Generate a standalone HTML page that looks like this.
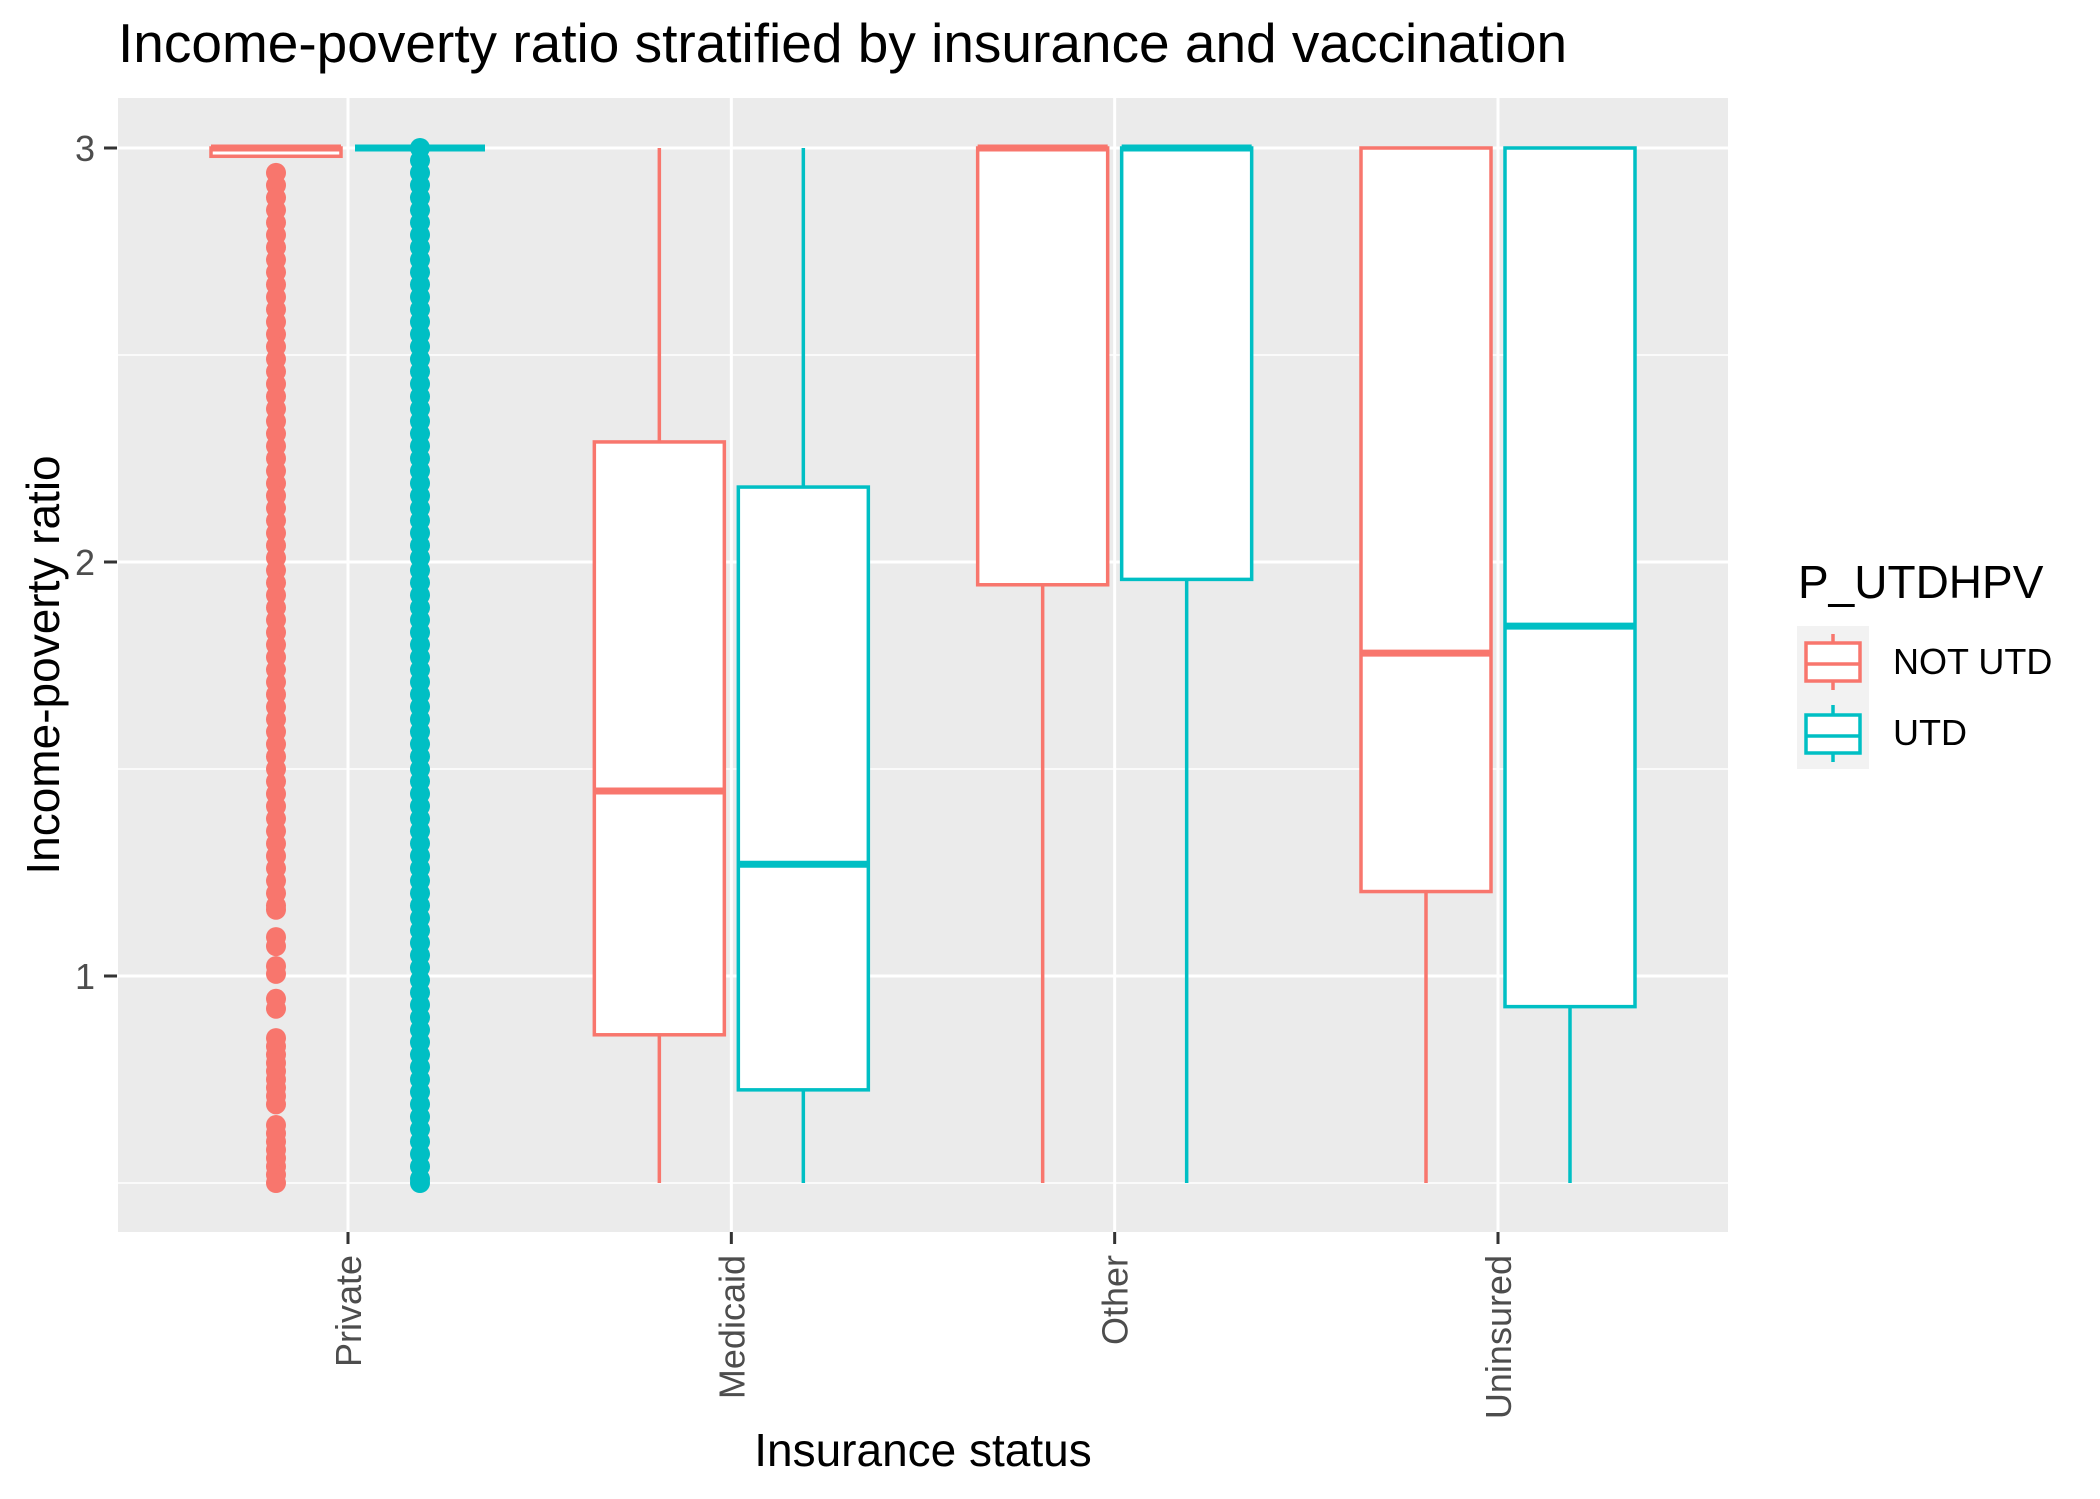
<!DOCTYPE html>
<html><head><meta charset="utf-8">
<style>
html,body{margin:0;padding:0;background:#fff;}
svg{display:block;font-family:"Liberation Sans",Arial,sans-serif;}
</style></head>
<body>
<svg id="chart" width="2100" height="1499" viewBox="0 0 2100 1499" xmlns="http://www.w3.org/2000/svg">
<rect width="2100" height="1499" fill="#fff"/>
<text x="118" y="62" font-size="55" fill="#000">Income-poverty ratio stratified by insurance and vaccination</text>
<rect x="118" y="98" width="1610" height="1134" fill="#EBEBEB"/>
<g id="grid"></g>
<g id="marks"></g>
<g id="axes"></g>
<text transform="translate(59,665) rotate(-90)" text-anchor="middle" font-size="46" fill="#000">Income-poverty ratio</text>
<text x="923" y="1466" text-anchor="middle" font-size="46" fill="#000">Insurance status</text>
<g>
<text x="1798" y="598" font-size="46" fill="#000">P_UTDHPV</text>
<rect x="1797" y="626" width="72" height="143" fill="#F2F2F2"/>
<g>
<line x1="1833" y1="634" x2="1833" y2="690" stroke="#F8766D" stroke-width="3.5"/>
<rect x="1806" y="643" width="54" height="38" fill="#fff" stroke="#F8766D" stroke-width="3.5"/>
<line x1="1806" y1="664" x2="1860" y2="664" stroke="#F8766D" stroke-width="3.5"/>
<text x="1893" y="674" font-size="36" fill="#000">NOT UTD</text>
</g>
<g>
<line x1="1833" y1="705" x2="1833" y2="762" stroke="#00BFC4" stroke-width="3.5"/>
<rect x="1806" y="715" width="54" height="38" fill="#fff" stroke="#00BFC4" stroke-width="3.5"/>
<line x1="1806" y1="736" x2="1860" y2="736" stroke="#00BFC4" stroke-width="3.5"/>
<text x="1893" y="745" font-size="36" fill="#000">UTD</text>
</g>
</g>
</svg>
<script>
const categories = ["Private","Medicaid","Other","Uninsured"];
const groups = ["NOT UTD","UTD"];
const yTicks = [1,2,3];
const yMinor = [0.5,1.5,2.5];
// per category: [ymin, lower, middle, upper, ymax]
const notUtdStats = [[2.98,2.98,3.0,3.0,3.0],[0.5,0.858,1.447,2.29,3.0],[0.5,1.945,3.0,3.0,3.0],[0.5,1.204,1.78,3.0,3.0]];
const utdStats = [[3.0,3.0,3.0,3.0,3.0],[0.5,0.725,1.27,2.181,3.0],[0.5,1.958,3.0,3.0,3.0],[0.5,0.926,1.845,3.0,3.0]];
const notUtdPrivateOutliers = [2.94,2.91,2.88,2.85,2.82,2.79,2.76,2.73,2.70,2.67,2.64,2.61,2.58,2.55,2.52,2.49,2.46,2.43,2.40,2.37,2.34,2.31,2.28,2.25,2.22,2.19,2.16,2.13,2.10,2.07,2.04,2.01,1.98,1.95,1.92,1.89,1.86,1.83,1.80,1.77,1.74,1.71,1.68,1.65,1.62,1.59,1.56,1.53,1.50,1.47,1.44,1.41,1.38,1.35,1.32,1.29,1.26,1.23,1.20,1.17,1.16,1.094,1.072,1.024,1.005,0.945,0.921,0.85,0.83,0.81,0.79,0.77,0.75,0.73,0.71,0.69,0.64,0.62,0.60,0.58,0.56,0.54,0.52,0.50];
const utdPrivateOutliers = [3.00,2.97,2.94,2.91,2.88,2.85,2.82,2.79,2.76,2.73,2.70,2.67,2.64,2.61,2.58,2.55,2.52,2.49,2.46,2.43,2.40,2.37,2.34,2.31,2.28,2.25,2.22,2.19,2.16,2.13,2.10,2.07,2.04,2.01,1.98,1.95,1.92,1.89,1.86,1.83,1.80,1.77,1.74,1.71,1.68,1.65,1.62,1.59,1.56,1.53,1.50,1.47,1.44,1.41,1.38,1.35,1.32,1.29,1.26,1.23,1.20,1.17,1.14,1.11,1.08,1.05,1.02,0.99,0.96,0.93,0.90,0.87,0.84,0.81,0.78,0.75,0.72,0.69,0.66,0.63,0.60,0.57,0.54,0.51,0.50];

const NS = "http://www.w3.org/2000/svg";
const colors = ["#F8766D","#00BFC4"];
const panel = {x0:118, x1:1728, y0:98, y1:1232};
const step = (panel.x1-panel.x0)/(categories.length+0.2);
function xScale(i){ return panel.x0 + (0.6 + i)*step; }
function yScale(v){ return 148 + (3 - v)*414; }
function mk(tag, attrs, parent){
  const e = document.createElementNS(NS, tag);
  for (const k in attrs) e.setAttribute(k, attrs[k]);
  parent.appendChild(e);
  return e;
}
const grid = document.getElementById("grid");
const marks = document.getElementById("marks");
const axes = document.getElementById("axes");

yMinor.forEach(v=>{
  const l = mk("line",{x1:panel.x0,x2:panel.x1,y1:yScale(v),y2:yScale(v),stroke:"#fff","stroke-width":1.5},grid);
  
  
});
yTicks.forEach(v=>{
  const l = mk("line",{x1:panel.x0,x2:panel.x1,y1:yScale(v),y2:yScale(v),stroke:"#fff","stroke-width":3},grid);
  
  
  const t = mk("line",{x1:104,x2:117,y1:yScale(v),y2:yScale(v),stroke:"#333","stroke-width":3},axes);
  
  
  const tx = mk("text",{x:95,y:yScale(v)+13,"text-anchor":"end","font-size":36,fill:"#4D4D4D"},axes);
  tx.textContent = String(v);
  
  
});
categories.forEach((c,i)=>{
  const x = xScale(i);
  const l = mk("line",{x1:x,x2:x,y1:panel.y0,y2:panel.y1,stroke:"#fff","stroke-width":3},grid);
  
  
  const t = mk("line",{x1:x,x2:x,y1:panel.y1,y2:panel.y1+12,stroke:"#333","stroke-width":3},axes);
  
  
  const tx = mk("text",{transform:`translate(${x+13},1255) rotate(-90)`,"text-anchor":"end","font-size":36,fill:"#4D4D4D"},axes);
  tx.textContent = c;
  
  
});

const boxW = 130;
const offs = [-72, 72];
[notUtdStats, utdStats].forEach((stats,g)=>{
  stats.forEach((s,i)=>{
    const cx = xScale(i) + offs[g];
    const grp = mk("g",{},marks);
    
    
    if (s[0] < s[1]) mk("line",{x1:cx,x2:cx,y1:yScale(s[1]),y2:yScale(s[0]),stroke:colors[g],"stroke-width":3.5},grp);
    if (s[4] > s[3]) mk("line",{x1:cx,x2:cx,y1:yScale(s[4]),y2:yScale(s[3]),stroke:colors[g],"stroke-width":3.5},grp);
    mk("rect",{x:cx-boxW/2,y:yScale(s[3]),width:boxW,height:Math.max(0,yScale(s[1])-yScale(s[3])),fill:"#fff",stroke:colors[g],"stroke-width":3.5},grp);
    mk("line",{x1:cx-boxW/2,x2:cx+boxW/2,y1:yScale(s[2]),y2:yScale(s[2]),stroke:colors[g],"stroke-width":7},grp);
  });
});
[notUtdPrivateOutliers, utdPrivateOutliers].forEach((arr,g)=>{
  const cx = xScale(0) + offs[g];
  arr.forEach(v=>{
    const p = mk("circle",{cx:cx,cy:yScale(v),r:10,fill:colors[g]},marks);
    
    
  });
});
</script>
</body></html>
